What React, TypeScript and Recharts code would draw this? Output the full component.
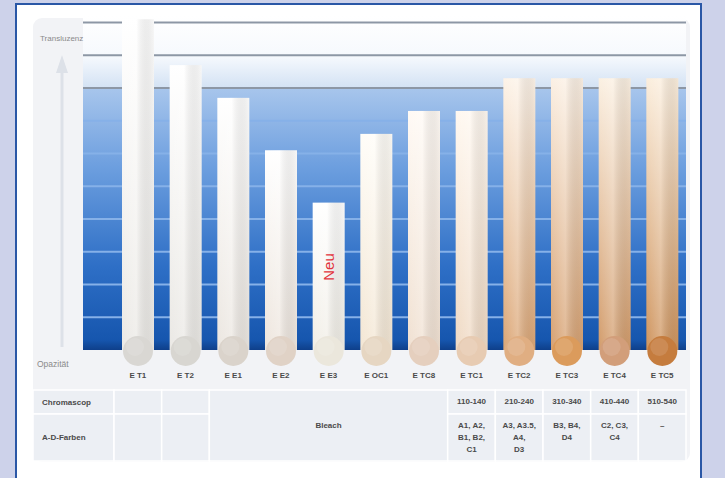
import React from "react";
import { BarChart, Bar, XAxis, YAxis, CartesianGrid } from "recharts";

// ---------- data ----------
const categories = ["E T1", "E T2", "E E1", "E E2", "E E3", "E OC1", "E TC8", "E TC1", "E TC2", "E TC3", "E TC4", "E TC5"];
const translucency = [101, 87, 77, 61, 45, 66, 73, 73, 83, 83, 83, 83];
const chromascop = ["", "", "", "", "", "", "", "110-140", "210-240", "310-340", "410-440", "510-540"];
const adShades: string[][] = [[], [], [], [], [], [], [], ["A1, A2,", "B1, B2,", "C1"], ["A3, A3.5,", "A4,", "D3"], ["B3, B4,", "D4"], ["C2, C3,", "C4"], ["–"]];
const bleachLabel = "Bleach";
const bleachCenterIndex = 4;
const notes = ["", "", "", "", "Neu", "", "", "", "", "", "", ""];
const darkGridValues = [80, 90, 100];
const lightGridValues = [10, 20, 30, 40, 50, 60, 70];
const axisTopLabel = "Transluzenz";
const axisBottomLabel = "Opazität";
const rowLabels = ["Chromascop", "A-D-Farben"];

// ---------- styles ----------
const barTop = ["#ffffff", "#ffffff", "#ffffff", "#ffffff", "#ffffff", "#fffdf8", "#fffaf5", "#fff8f0", "#fdf3e8", "#fbf0e4", "#fbf0e2", "#fbeedd"];
const barBottom = ["#ebe9e5", "#eae8e4", "#ebe6e0", "#ede5dd", "#f1eee6", "#f3e6d3", "#f0e0d1", "#efd9c3", "#dba574", "#d6a070", "#d29b6a", "#ce935c"];
const swatch = ["#d9d7d3", "#d8d6d1", "#dad3cb", "#e0d2c6", "#ebe7dc", "#e6d6c2", "#e5cfbe", "#e7cbb2", "#e0ae82", "#db9b5c", "#d29e7a", "#c57c3e"];

const data = categories.map((name, i) => ({ name, value: translucency[i] }));

const FONT = "'Liberation Sans', Arial, sans-serif";
const TXT = "#4a4a4a";

function TableTick(props: any) {
  const { x, y, payload } = props;
  let i = payload && typeof payload.index === "number" ? payload.index : categories.indexOf(payload?.value);
  if (i < 0) i = categories.indexOf(payload?.value);
  const lines = adShades[i] || [];
  return (
    <g fontFamily={FONT} fontSize={8} fontWeight="bold" fill={TXT} textAnchor="middle">
      <text x={x} y={y + 28}>{categories[i]}</text>
      {chromascop[i] ? <text x={x} y={y + 54}>{chromascop[i]}</text> : null}
      {lines.map((l, k) => (
        <text key={k} x={x} y={y + 78 + k * 12}>{l}</text>
      ))}
      {i === bleachCenterIndex ? <text x={x} y={y + 78}>{bleachLabel}</text> : null}
    </g>
  );
}

function BarShape(props: any) {
  const { x, y, width, height, index, payload } = props;
  let i = typeof index === "number" ? index : categories.indexOf(payload?.name);
  const cx = x + width / 2;
  const bottom = y + height;
  return (
    <g>
      <rect x={x} y={y} width={width} height={height} fill={`url(#barGrad${i})`} />
      <rect x={x} y={y} width={width} height={height} fill="url(#barShine)" />
      <circle cx={cx} cy={bottom + 1} r={15} fill={swatch[i]} />
      <circle cx={cx - 3} cy={bottom - 3} r={9} fill="#ffffff" opacity={0.12} />
      {notes[i] ? (
        <text
          x={cx}
          y={bottom - 83}
          transform={`rotate(-90 ${cx} ${bottom - 83})`}
          textAnchor="middle"
          dominantBaseline="central"
          fontFamily={FONT}
          fontSize={15}
          fill="#e2343c"
        >
          {notes[i]}
        </text>
      ) : null}
    </g>
  );
}

export default function App() {
  // layout constants (decoration only)
  const bandStart = 114;
  const band = (686 - 114) / 12;
  const colEdge = (k: number) => bandStart + k * band;
  const cellFill = "#eceff4";
  const cells: { x: number; y: number; w: number; h: number }[] = [];
  const rowsY = [390, 414, 461];
  cells.push({ x: 33, y: rowsY[0], w: colEdge(0) - 33, h: rowsY[1] - rowsY[0] });
  cells.push({ x: 33, y: rowsY[1], w: colEdge(0) - 33, h: rowsY[2] - rowsY[1] });
  for (const k of [0, 1]) {
    cells.push({ x: colEdge(k), y: rowsY[0], w: band, h: rowsY[1] - rowsY[0] });
    cells.push({ x: colEdge(k), y: rowsY[1], w: band, h: rowsY[2] - rowsY[1] });
  }
  cells.push({ x: colEdge(2), y: rowsY[0], w: band * 5, h: rowsY[2] - rowsY[0] });
  for (let k = 7; k < 12; k++) {
    cells.push({ x: colEdge(k), y: rowsY[0], w: band, h: rowsY[1] - rowsY[0] });
    cells.push({ x: colEdge(k), y: rowsY[1], w: band, h: rowsY[2] - rowsY[1] });
  }

  return (
    <div style={{ position: "absolute", left: 0, top: 0, width: 725, height: 478, background: "#cdd2ea", overflow: "hidden" }}>
      <div
        style={{
          position: "absolute",
          left: 15,
          top: 3,
          width: 683,
          height: 490,
          background: "#ffffff",
          border: "2px solid #2a57a6",
        }}
      />
      <svg style={{ position: "absolute", left: 0, top: 0 }} width={725} height={478}>
        <rect x={33} y={18} width={657} height={444} rx={9} fill="#f2f3f6" />
        {cells.map((c, k) => (
          <rect key={k} x={c.x} y={c.y} width={c.w} height={c.h} fill={cellFill} stroke="#ffffff" strokeWidth={1.5} />
        ))}
        <line x1={62} y1={70} x2={62} y2={347} stroke="#dde1e8" strokeWidth={3} />
        <polygon points="62,55 56,73 68,73" fill="#dde1e8" />
        <text x={37} y={367} fontFamily={FONT} fontSize={8.5} fill="#8a8a8a">{axisBottomLabel}</text>
        <text x={42} y={405} fontFamily={FONT} fontSize={8} fontWeight="bold" fill={TXT}>{rowLabels[0]}</text>
        <text x={42} y={440} fontFamily={FONT} fontSize={8} fontWeight="bold" fill={TXT}>{rowLabels[1]}</text>
      </svg>
      <div style={{ position: "absolute", left: 0, top: 0 }}>
        <BarChart width={725} height={478} data={data} margin={{ top: 16, right: 39, left: 83, bottom: 18 }}>
          <defs>
            <linearGradient id="bgGrad" x1="0" y1="0" x2="0" y2="1">
              <stop offset="0" stopColor="#ffffff" />
              <stop offset="0.12" stopColor="#f6f9fd" />
              <stop offset="0.215" stopColor="#d3e2f4" />
              <stop offset="0.218" stopColor="#a7c5ec" />
              <stop offset="0.45" stopColor="#6d9fdf" />
              <stop offset="0.75" stopColor="#2e6fc6" />
              <stop offset="0.97" stopColor="#1656ae" />
              <stop offset="1" stopColor="#0e3f8a" />
            </linearGradient>
            <linearGradient id="barShine" x1="0" y1="0" x2="1" y2="0">
              <stop offset="0" stopColor="#ffffff" stopOpacity={0} />
              <stop offset="0.45" stopColor="#ffffff" stopOpacity={0.25} />
              <stop offset="1" stopColor="#000000" stopOpacity={0.03} />
            </linearGradient>
            {categories.map((c, i) => (
              <linearGradient key={c} id={`barGrad${i}`} x1="0" y1="0" x2="0" y2="1">
                <stop offset="0" stopColor={barTop[i]} />
                <stop offset="1" stopColor={barBottom[i]} />
              </linearGradient>
            ))}
          </defs>
          <CartesianGrid
            vertical={false}
            horizontalValues={darkGridValues}
            stroke="#8d97a5"
            strokeWidth={2}
            fill="url(#bgGrad)"
            fillOpacity={1}
          />
          <CartesianGrid vertical={false} horizontalValues={lightGridValues} stroke="#86b1e8" strokeWidth={2} />
          <XAxis
            dataKey="name"
            axisLine={false}
            tickLine={false}
            tickSize={0}
            tickMargin={0}
            height={110}
            interval={0}
            padding={{ left: 31, right: 0 }}
            tick={<TableTick />}
          />
          <YAxis hide domain={[0, 102]} type="number" />
          <Bar dataKey="value" barSize={32} isAnimationActive={false} shape={<BarShape />} />
        </BarChart>
      </div>
      <svg style={{ position: "absolute", left: 0, top: 0, pointerEvents: "none" }} width={725} height={60}>
        <text x={40} y={41} fontFamily={FONT} fontSize={8} fill="#8a8a8a">{axisTopLabel}</text>
      </svg>
    </div>
  );
}
